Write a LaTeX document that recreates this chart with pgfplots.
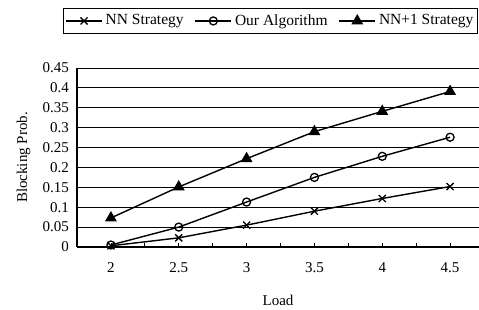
\documentclass[border=0pt]{standalone}
\usepackage{fontspec}
\setmainfont{Liberation Serif}
\usepackage{pgfplots}
\pgfplotsset{compat=1.18}
\begin{document}
\fontsize{15pt}{17pt}\selectfont
\begin{tikzpicture}
\useasboundingbox (0,0) rectangle (479pt,310pt);
\begin{axis}[
  at={(77pt,63pt)}, anchor=south west,
  scale only axis, width=402pt, height=179pt,
  xmin=1.75, xmax=4.713, ymin=0, ymax=0.45,
  axis x line*=bottom, axis y line*=left,
  axis line style={black, line width=1.3pt, -},
  xtick={2,2.5,3,3.5,4,4.5},
  xticklabels={2,2.5,3,3.5,4,4.5},
  minor xtick={2.25,2.75,3.25,3.75,4.25},
  ytick={0,0.05,...,0.451},
  yticklabels={0,0.05,0.1,0.15,0.2,0.25,0.3,0.35,0.4,0.45},
  tick align=inside,
  major tick length=4pt, minor tick length=4pt,
  xtick style={black, line width=0.8pt},
  minor x tick style={black, line width=0.8pt},
  ytick style={draw=none},
  ymajorgrids, major grid style={black, line width=0.8pt},
  /pgf/number format/assume math mode=true,
  tick label style={font=\fontsize{15pt}{17pt}\selectfont},
  xticklabel style={yshift=-10pt},
  yticklabel style={xshift=-3pt},
  xlabel={Load}, ylabel={Blocking Prob.},
  label style={font=\fontsize{15pt}{17pt}\selectfont},
  xlabel style={at={(ticklabel cs:0.5)}, anchor=north, yshift=-13pt},
  ylabel style={yshift=2pt},
  legend columns=3,
  legend style={at={(-0.035,1.335)}, anchor=north west, draw=black, line width=0.8pt,
    font=\fontsize{15.5pt}{17pt}\selectfont, inner xsep=2pt, inner ysep=4pt,
    /tikz/every even column/.append style={column sep=9pt},
    /tikz/every odd column/.append style={column sep=1pt}},
  legend image code/.code={\draw[mark repeat=2,mark phase=2,#1] plot coordinates {(0pt,0pt) (18pt,0pt) (36pt,0pt)};},
  every axis plot/.append style={black, line width=1.4pt, mark options={solid, line width=1.3pt}},
]
\addplot[mark=x, mark size=5pt] coordinates {(2,0.003) (2.5,0.023) (3,0.055) (3.5,0.09) (4,0.122) (4.5,0.152)};
\addlegendentry{NN Strategy}
\addplot[mark=o, mark size=4pt] coordinates {(2,0.005) (2.5,0.05) (3,0.113) (3.5,0.175) (4,0.228) (4.5,0.276)};
\addlegendentry{Our Algorithm}
\addplot[mark=triangle*, mark size=5.5pt, mark options={fill=black}] coordinates {(2,0.073) (2.5,0.151) (3,0.222) (3.5,0.29) (4,0.341) (4.5,0.391)};
\addlegendentry{NN+1 Strategy}
\end{axis}
\end{tikzpicture}
\end{document}
